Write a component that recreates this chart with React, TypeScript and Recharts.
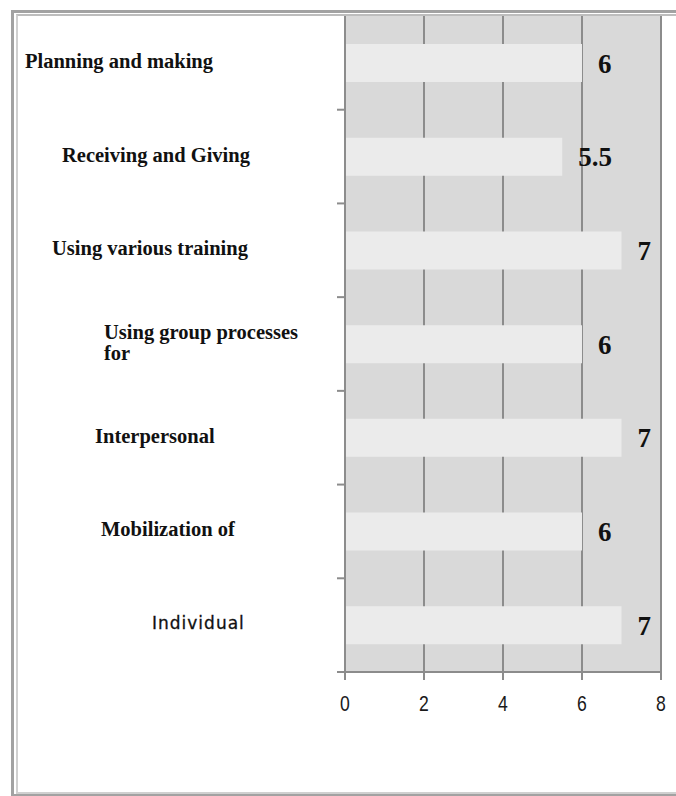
import React from "react";
import {
  BarChart,
  Bar,
  XAxis,
  YAxis,
  CartesianGrid,
  LabelList,
} from "recharts";

const categories = [
  "Planning and making",
  "Receiving and Giving",
  "Using various training",
  "Using group processes\nfor",
  "Interpersonal",
  "Mobilization of",
  "Individual",
];
const values = [6, 5.5, 7, 6, 7, 6, 7];
const xTicks = [0, 2, 4, 6, 8];

// label left edges (styling only)
const labelX = [25, 62, 52, 104, 95, 101, 152];

const data = categories.map((name, i) => ({ name, value: values[i] }));

const SERIF = "'Liberation Serif', 'Times New Roman', serif";
const Y_AXIS_WIDTH = 345;

const CategoryTick = (props: any) => {
  const { y, payload, index } = props;
  const i = typeof index === "number" ? index : categories.indexOf(payload.value);
  const text: string = String(payload.value);
  const lines = text.split("\n");
  const isSans = text === "Individual";
  const x = labelX[i] ?? 20;
  const lh = 21;
  const startY = y - ((lines.length - 1) * lh) / 2 - 2;
  const half = payload && typeof payload.offset === "number" ? payload.offset : 0;
  const by = y + half;
  return (
    <g>
      <line
        x1={Y_AXIS_WIDTH - 8}
        x2={Y_AXIS_WIDTH}
        y1={by}
        y2={by}
        stroke="#8c8c8c"
        strokeWidth={2}
      />
      {lines.map((ln, k) => (
        <text
          key={k}
          x={x}
          y={startY + k * lh}
          dominantBaseline="central"
          textAnchor="start"
          fill="#111"
          fontFamily={isSans ? "'DejaVu Sans', sans-serif" : SERIF}
          fontWeight={isSans ? 500 : 700}
          fontSize={isSans ? 17 : 20.5}
          letterSpacing={isSans ? 1 : 0}
          stroke={isSans ? "#111" : "none"}
          strokeWidth={isSans ? 0.3 : 0}
        >
          {ln}
        </text>
      ))}
    </g>
  );
};

const XTick = (props: any) => {
  const { x, y, payload } = props;
  return (
    <g transform={`translate(${x},${y + 21}) scale(0.8,1)`}>
      <text
        x={0}
        y={0}
        textAnchor="middle"
        dominantBaseline="central"
        fill="#1a1a1a"
        fontFamily="'Liberation Sans', Arial, sans-serif"
        fontSize={22}
      >
        {payload.value}
      </text>
    </g>
  );
};

export default function App() {
  return (
    <div
      style={{
        position: "absolute",
        left: 0,
        top: 0,
        width: 676,
        height: 796,
        overflow: "hidden",
        background: "#fff",
      }}
    >
      <div
        style={{
          position: "absolute",
          left: 11,
          top: 10,
          width: 720,
          height: 781,
          borderLeft: "3px solid #a2a2a2",
          borderTop: "3px solid #a2a2a2",
          borderBottom: "3px solid #a2a2a2",
        }}
      />
      <div
        style={{
          position: "absolute",
          left: 16,
          top: 14,
          width: 720,
          height: 776,
          borderLeft: "2px solid #d0d0d0",
          borderTop: "2px solid #bdbdbd",
          borderBottom: "2px solid #d0d0d0",
        }}
      />
      <div style={{ position: "absolute", left: 0, top: 0 }}>
        <BarChart
          width={676}
          height={796}
          data={data}
          layout="vertical"
          margin={{ top: 16, right: 15, bottom: 84, left: 0 }}
          barCategoryGap={0}
        >
          <CartesianGrid
            horizontal={false}
            vertical={true}
            fill="#d9d9d9"
            stroke="#8c8c8c"
            strokeWidth={2}
          />
          <XAxis
            type="number"
            domain={[0, 8]}
            ticks={xTicks}
            interval={0}
            height={40}
            tickSize={8}
            axisLine={{ stroke: "#8c8c8c", strokeWidth: 2 }}
            tickLine={{ stroke: "#8c8c8c", strokeWidth: 2 }}
            tick={<XTick />}
          />
          <YAxis
            type="category"
            dataKey="name"
            width={Y_AXIS_WIDTH}
            axisLine={{ stroke: "#8c8c8c", strokeWidth: 2 }}
            tickLine={false}
            interval={0}
            tick={<CategoryTick />}
          />
          <Bar
            dataKey="value"
            fill="#ebebeb"
            barSize={38}
            isAnimationActive={false}
          >
            <LabelList
              dataKey="value"
              position="right"
              offset={16}
              fill="#111"
              fontSize={27}
              fontWeight={700}
              fontFamily={SERIF}
            />
          </Bar>
        </BarChart>
      </div>
    </div>
  );
}
